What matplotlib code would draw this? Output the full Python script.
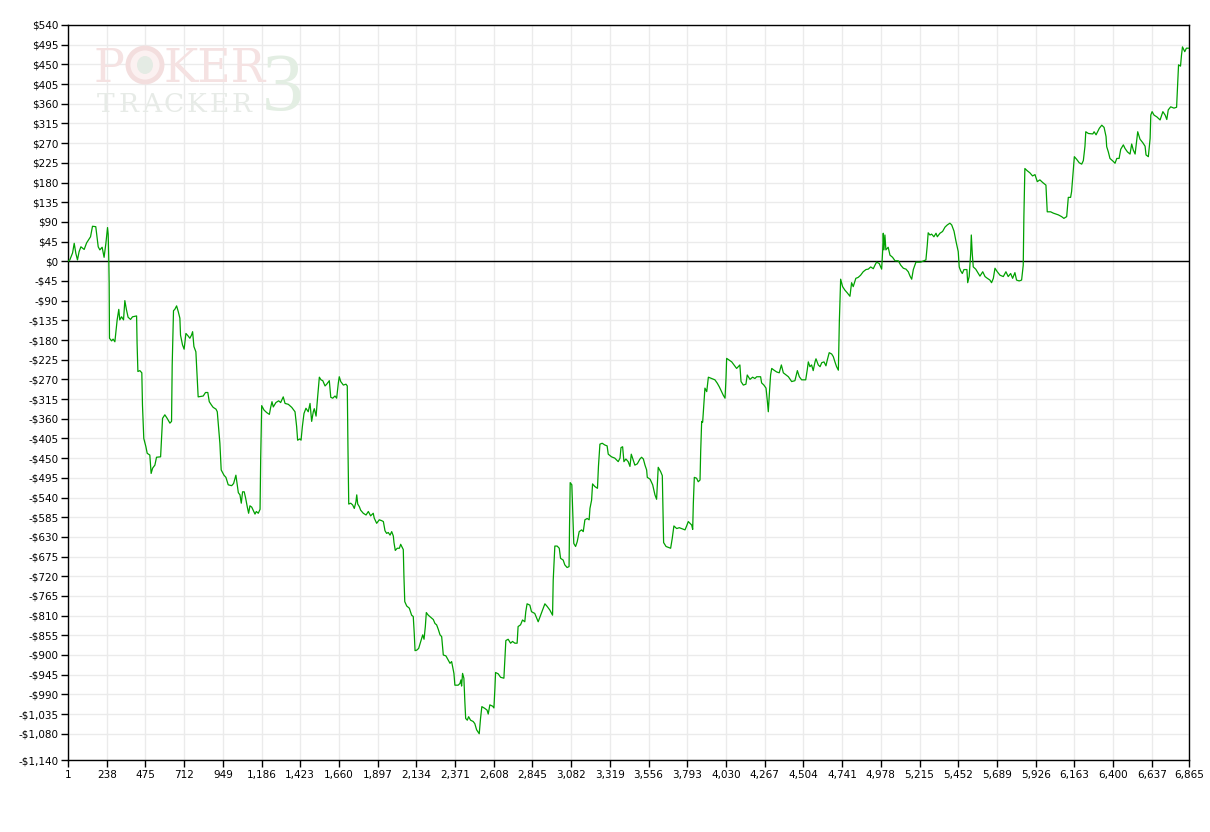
import matplotlib
matplotlib.use('Agg')
import matplotlib.pyplot as plt
from matplotlib.patches import Ellipse
from matplotlib.ticker import FuncFormatter

plt.rcParams['font.family'] = ['DejaVu Sans']

# hand number and cumulative winnings ($)
hands = [1, 12, 29, 39, 49, 59, 69, 80, 100, 115, 139, 151, 171, 186, 196, 210, 222, 233, 243, 247,
         251, 253, 255, 268, 277, 288, 302, 312, 318, 329, 341, 349, 359, 369, 384, 396, 421, 424, 429, 441,
         453, 457, 465, 478, 486, 502, 510, 519, 533, 543, 568, 574, 580, 594, 608, 625, 635, 639, 647, 655,
         666, 676, 686, 690, 702, 712, 723, 737, 747, 757, 764, 772, 784, 792, 798, 829, 843, 857, 866, 880,
         890, 907, 915, 931, 939, 956, 968, 982, 1003, 1015, 1029, 1036, 1044, 1054, 1062, 1070, 1080, 1089, 1099, 1107,
         1115, 1126, 1136, 1146, 1154, 1166, 1177, 1181, 1187, 1201, 1218, 1234, 1242, 1250, 1258, 1274, 1291, 1303, 1319, 1330,
         1350, 1371, 1391, 1401, 1407, 1421, 1428, 1436, 1446, 1458, 1472, 1483, 1493, 1503, 1509, 1520, 1528, 1540, 1550, 1561,
         1575, 1585, 1601, 1610, 1622, 1636, 1646, 1656, 1662, 1671, 1687, 1703, 1711, 1715, 1720, 1732, 1744, 1754, 1764, 1769,
         1775, 1785, 1793, 1809, 1826, 1840, 1854, 1870, 1876, 1891, 1907, 1922, 1932, 1942, 1952, 1962, 1973, 1983, 1993, 1997,
         2005, 2017, 2030, 2038, 2054, 2058, 2063, 2075, 2091, 2105, 2115, 2121, 2126, 2136, 2148, 2160, 2173, 2181, 2189, 2195,
         2207, 2222, 2238, 2248, 2258, 2268, 2279, 2289, 2299, 2315, 2340, 2350, 2364, 2370, 2390, 2401, 2407, 2411, 2417, 2425,
         2431, 2436, 2446, 2454, 2466, 2482, 2492, 2503, 2519, 2527, 2535, 2553, 2567, 2574, 2584, 2601, 2609, 2615, 2619, 2635,
         2650, 2670, 2676, 2682, 2696, 2711, 2723, 2737, 2751, 2757, 2772, 2784, 2798, 2804, 2812, 2829, 2839, 2859, 2880, 2890,
         2907, 2921, 2935, 2951, 2968, 2972, 2982, 2996, 3009, 3017, 3033, 3043, 3057, 3069, 3072, 3076, 3086, 3092, 3098, 3109,
         3119, 3131, 3146, 3156, 3166, 3180, 3192, 3197, 3207, 3213, 3227, 3243, 3249, 3258, 3272, 3288, 3302, 3309, 3329, 3349,
         3370, 3381, 3387, 3397, 3405, 3417, 3431, 3442, 3450, 3458, 3472, 3487, 3503, 3513, 3524, 3534, 3544, 3548, 3565, 3581,
         3595, 3605, 3615, 3630, 3640, 3644, 3648, 3663, 3691, 3701, 3711, 3728, 3744, 3779, 3789, 3799, 3820, 3826, 3830, 3836,
         3850, 3860, 3871, 3875, 3881, 3887, 3895, 3901, 3912, 3922, 3942, 3962, 3977, 3989, 4003, 4013, 4024, 4030, 4034, 4050,
         4065, 4079, 4095, 4115, 4122, 4136, 4152, 4160, 4177, 4193, 4207, 4218, 4242, 4248, 4262, 4275, 4283, 4289, 4295, 4303,
         4310, 4324, 4340, 4356, 4369, 4381, 4398, 4412, 4432, 4452, 4467, 4479, 4493, 4518, 4528, 4534, 4544, 4554, 4564, 4575,
         4581, 4595, 4606, 4616, 4630, 4642, 4650, 4662, 4677, 4687, 4697, 4707, 4718, 4724, 4732, 4744, 4758, 4772, 4789, 4799,
         4809, 4825, 4839, 4854, 4870, 4887, 4901, 4916, 4932, 4942, 4952, 4968, 4983, 4989, 4993, 4997, 5003, 5009, 5023, 5034,
         5050, 5065, 5085, 5100, 5116, 5132, 5146, 5157, 5167, 5177, 5193, 5222, 5254, 5262, 5268, 5279, 5289, 5303, 5316, 5324,
         5340, 5356, 5371, 5385, 5401, 5412, 5426, 5438, 5452, 5458, 5467, 5477, 5487, 5505, 5510, 5519, 5528, 5532, 5538, 5544,
         5559, 5575, 5585, 5602, 5616, 5630, 5646, 5656, 5667, 5677, 5691, 5708, 5728, 5744, 5758, 5773, 5785, 5799, 5809, 5825,
         5840, 5850, 5854, 5860, 5874, 5891, 5907, 5922, 5936, 5952, 5969, 5989, 5997, 6018, 6034, 6065, 6085, 6099, 6116, 6126,
         6140, 6146, 6156, 6163, 6177, 6193, 6208, 6218, 6228, 6233, 6249, 6276, 6284, 6296, 6316, 6331, 6345, 6357, 6361, 6371,
         6381, 6402, 6412, 6423, 6437, 6447, 6463, 6473, 6488, 6504, 6514, 6524, 6535, 6551, 6565, 6582, 6596, 6602, 6616, 6627,
         6631, 6639, 6651, 6668, 6688, 6705, 6719, 6729, 6738, 6753, 6773, 6789, 6795, 6801, 6813, 6819, 6825, 6839, 6849, 6865]

winnings = [0, 3, 19, 41, 18, 3, 22, 33, 27, 42, 56, 80, 79, 33, 26, 32, 9, 41, 77, 62,
            -1, -50, -176, -182, -178, -184, -134, -110, -134, -127, -134, -90, -111, -128, -133, -127, -125, -188, -252, -250,
            -255, -329, -405, -424, -439, -443, -485, -473, -466, -448, -447, -401, -359, -351, -359, -370, -366, -237, -113, -110,
            -102, -115, -130, -169, -191, -201, -165, -171, -176, -169, -161, -195, -207, -264, -310, -308, -300, -300, -321, -329,
            -334, -338, -344, -416, -477, -489, -494, -511, -513, -508, -489, -508, -529, -534, -553, -527, -527, -542, -562, -576,
            -559, -562, -570, -578, -572, -576, -567, -447, -330, -340, -346, -350, -334, -321, -333, -323, -319, -323, -310, -325,
            -327, -334, -344, -378, -409, -406, -409, -378, -348, -336, -344, -325, -366, -344, -337, -354, -317, -265, -271, -273,
            -285, -281, -273, -311, -313, -308, -313, -279, -264, -275, -283, -281, -285, -420, -555, -553, -557, -565, -550, -534,
            -555, -561, -569, -576, -580, -572, -582, -576, -587, -599, -591, -593, -595, -616, -622, -620, -626, -618, -628, -643,
            -661, -656, -656, -647, -659, -721, -778, -788, -793, -809, -812, -850, -890, -889, -885, -870, -854, -864, -835, -803,
            -809, -814, -819, -828, -831, -841, -854, -858, -900, -902, -919, -915, -942, -969, -969, -965, -957, -971, -942, -953,
            -1007, -1045, -1049, -1041, -1049, -1052, -1057, -1071, -1080, -1045, -1018, -1022, -1026, -1035, -1014, -1017, -1021, -976, -940, -943,
            -951, -953, -911, -867, -864, -873, -869, -873, -873, -835, -831, -820, -824, -801, -783, -786, -801, -805, -824, -814,
            -797, -783, -789, -797, -809, -729, -651, -651, -656, -679, -683, -694, -700, -698, -603, -506, -511, -580, -645, -652,
            -641, -618, -614, -618, -591, -588, -591, -565, -546, -509, -515, -519, -469, -418, -416, -420, -422, -441, -447, -450,
            -458, -450, -426, -424, -458, -452, -458, -469, -441, -450, -466, -463, -452, -448, -452, -466, -477, -494, -498, -511,
            -534, -544, -471, -481, -490, -565, -643, -652, -656, -633, -605, -611, -609, -614, -605, -595, -603, -613, -553, -494,
            -496, -504, -500, -435, -366, -368, -323, -290, -298, -265, -268, -271, -279, -287, -298, -306, -313, -268, -222, -226,
            -230, -237, -245, -237, -275, -283, -281, -260, -270, -265, -268, -264, -264, -278, -283, -290, -319, -344, -306, -260,
            -245, -249, -253, -255, -237, -255, -260, -264, -275, -273, -250, -264, -271, -271, -247, -230, -241, -237, -250, -230,
            -223, -237, -241, -232, -230, -239, -226, -209, -212, -218, -230, -241, -249, -138, -41, -58, -66, -72, -80, -49,
            -58, -39, -37, -32, -24, -19, -18, -13, -17, -9, -2, -5, -18, 22, 64, 26, 60, 26, 32, 14,
            9, 1, 1, -9, -16, -18, -24, -34, -41, -19, -2, -2, 3, 35, 65, 60, 62, 56, 64, 56,
            64, 68, 78, 83, 87, 83, 69, 46, 22, -13, -22, -28, -19, -19, -49, -35, 17, 60, 17, -13,
            -18, -28, -34, -24, -35, -39, -43, -49, -39, -16, -24, -32, -35, -24, -35, -28, -39, -26, -43, -45,
            -43, -9, 102, 212, 207, 202, 195, 198, 182, 186, 180, 174, 113, 113, 110, 106, 102, 98, 102, 146,
            146, 159, 205, 239, 233, 225, 222, 230, 263, 296, 292, 291, 296, 289, 304, 311, 306, 285, 262, 250,
            235, 228, 224, 235, 235, 256, 266, 258, 250, 245, 268, 254, 245, 296, 279, 271, 263, 243, 239, 281,
            334, 342, 334, 330, 323, 342, 334, 324, 346, 353, 350, 352, 399, 449, 446, 471, 490, 479, 487, 487]

x_ticks = [1, 238, 475, 712, 949, 1186, 1423, 1660, 1897, 2134, 2371, 2608, 2845, 3082,
           3319, 3556, 3793, 4030, 4267, 4504, 4741, 4978, 5215, 5452, 5689, 5926, 6163,
           6400, 6637, 6865]
y_ticks = [540, 495, 450, 405, 360, 315, 270, 225, 180, 135, 90, 45, 0, -45, -90, -135,
           -180, -225, -270, -315, -360, -405, -450, -495, -540, -585, -630, -675, -720,
           -765, -810, -855, -900, -945, -990, -1035, -1080, -1140]


def money(v, pos=None):
    v = int(round(v))
    if v < 0:
        return '-${:,}'.format(-v)
    return '${:,}'.format(v)


W, H = 1210, 832
fig = plt.figure(figsize=(W / 100, H / 100), dpi=100)
ax = fig.add_axes([68 / W, 1 - 760 / H, 1121 / W, 735 / H])

# PokerTracker 3 watermark (pixel positions converted to figure fractions)
pink = '#f5e2e2'
fig.text(93 / W, 1 - 82 / H, 'P', fontsize=33, family='DejaVu Serif', color=pink, va='baseline')
fig.text(163 / W, 1 - 82 / H, 'KER', fontsize=33, family='DejaVu Serif', color=pink, va='baseline')
fig.patches.append(Ellipse((145 / W, 1 - 65 / H), 34 / W, 34 / H, transform=fig.transFigure,
                           facecolor='#fbf1f1', edgecolor='#f3dede', lw=3.5))
fig.patches.append(Ellipse((145 / W, 1 - 65 / H), 16 / W, 18 / H, transform=fig.transFigure,
                           facecolor='#e4ebe4', edgecolor='none'))
for i, ch in enumerate('TRACKER'):
    fig.text((106 + 22.6 * i) / W, 1 - 112 / H, ch, fontsize=19, family='DejaVu Serif',
             color='#e7ebe7', va='baseline', ha='center')
fig.text(262 / W, 1 - 110 / H, '3', fontsize=60, family='Liberation Serif', color='#e3eee3',
         va='baseline')

ax.plot(hands, winnings, color='#00a000', lw=0.9, zorder=3)
ax.axhline(0, color='black', lw=1.0, zorder=2)

ax.set_xlim(1, 6865)
ax.set_ylim(-1140, 540)
ax.set_xticks(x_ticks)
ax.set_xticklabels(['{:,}'.format(t) for t in x_ticks])
ax.set_yticks(y_ticks)
ax.yaxis.set_major_formatter(FuncFormatter(money))
ax.grid(True, color='#ebebeb', lw=1.0)
ax.set_axisbelow(True)
ax.tick_params(labelsize=7.5, length=5, width=1, colors='black', pad=2)
ax.patch.set_alpha(0)
for s in ax.spines.values():
    s.set_color('black')
    s.set_linewidth(1.0)

fig.savefig('out.png', dpi=100)
